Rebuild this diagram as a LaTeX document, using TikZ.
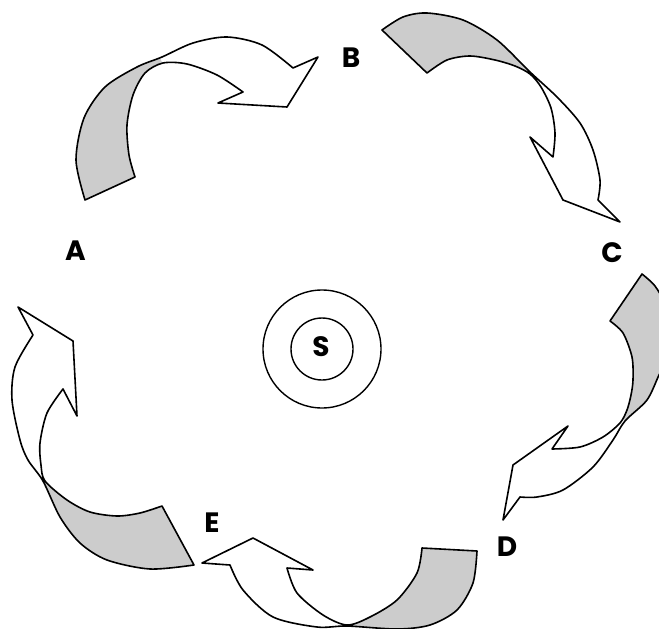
\documentclass[tikz,border=0pt]{standalone}
\usepackage{fontspec}
\setmainfont{Poppins}
\definecolor{backgray}{RGB}{204,204,204}
\begin{document}
\begin{tikzpicture}[x=1pt,y=-1pt, line join=round,
  ribbon/.style={draw=black, line width=1.6pt},
  lab/.style={font=\fontsize{28}{28}\selectfont\bfseries, inner sep=0pt},
  ring/.style={circle, draw=black, line width=1.4pt, inner sep=0pt}]
\useasboundingbox (0,0) rectangle (659,629);
\clip (0,0) rectangle (659,629);

\def\arrAB{(135,177) -- (85,200)
  -- plot[smooth] coordinates {(85,200) (76,160) (84,118) (105,87) (137,67) (162,57) (193,43) (227,37) (262,45) (293,68)}
  -- (318,57) -- (287,107) -- (218,103) -- (243,92)
  -- plot[smooth] coordinates {(243,92) (217,75) (187,64) (163,63) (145,73) (133,95) (127,125) (129,155) (135,177)} -- cycle}
\def\arrBC{(427,73) -- (382,30)
  -- plot[smooth] coordinates {(382,30) (403,17) (427,13) (463,20) (497,40) (530,72) (557,97) (580,123) (593,150) (600,180) (598,200)}
  -- (620,222) -- (563,200) -- (530,137) -- (553,157)
  -- plot[smooth] coordinates {(553,157) (555,133) (551,108) (541,87) (530,74) (515,66) (495,60) (470,56) (447,60) (427,73)} -- cycle}
\def\arrCD{(610,321) -- (642,274)
  -- plot[smooth] coordinates {(642,274) (655,286) (665,305) (670,335) (667,360) (659,375) (647,400) (625,421) (613,440) (593,467) (563,490) (537,497) (520,497)}
  -- (503,520) -- (513,465) -- (568,426) -- (552,449)
  -- plot[smooth] coordinates {(552,449) (580,447) (603,437) (620,423) (627,410) (631,395) (633,380) (632,357) (623,333) (610,321)} -- cycle}
\def\arrDE{(422,548) -- (477,551)
  -- plot[smooth] coordinates {(477,551) (473,583) (457,610) (430,625) (397,629) (347,626) (317,627) (273,617) (243,590) (230,565)}
  -- (202,563) -- (253,538) -- (313,570) -- (287,568)
  -- plot[smooth] coordinates {(287,568) (297,593) (323,615) (347,625) (370,617) (397,600) (417,573) (422,548)} -- cycle}
\def\arrEA{(162,506) -- (194,565)
  -- plot[smooth] coordinates {(194,565) (150,569) (107,560) (80,543) (60,517) (43,481) (28,460) (20,440) (12,400) (15,367) (33,335)}
  -- (18,307) -- (73,341) -- (77,416) -- (63,389)
  -- plot[smooth] coordinates {(63,389) (47,413) (40,443) (41,465) (45,481) (67,500) (90,512) (117,516) (140,513) (162,506)} -- cycle}

% white fronts
\fill[white] \arrAB; \fill[white] \arrBC; \fill[white] \arrCD; \fill[white] \arrDE; \fill[white] \arrEA;
% shaded backs
\begin{scope}
  \clip (121,-40) -- (241,260) -- (-10,260) -- (-10,-40) -- cycle;
  \fill[backgray] \arrAB;
\end{scope}
\begin{scope}
  \clip (630,-28) -- (430,172) -- (300,172) -- (300,-28) -- cycle;
  \fill[backgray] \arrBC;
\end{scope}
\begin{scope}
  \clip (425,320) -- (725,470) -- (725,200) -- (425,200) -- cycle;
  \fill[backgray] \arrCD;
\end{scope}
\begin{scope}
  \clip (347,400) -- (347,700) -- (700,700) -- (700,400) -- cycle;
  \fill[backgray] \arrDE;
\end{scope}
\begin{scope}
  \clip (-57,530) -- (243,380) -- (243,700) -- (-57,700) -- cycle;
  \fill[backgray] \arrEA;
\end{scope}
% outlines
\draw[ribbon] \arrAB; \draw[ribbon] \arrBC; \draw[ribbon] \arrCD; \draw[ribbon] \arrDE; \draw[ribbon] \arrEA;

% centre
\node[ring, minimum size=118pt] (orbit) at (322,349) {};
\node[ring, minimum size=62pt] (sun) at (322,349) {};
\node[lab] (S) at (321,347) {S};

% labels
\node[lab] (A) at (75.5,251) {A};
\node[lab] (B) at (351,58) {B};
\node[lab] (C) at (612,253) {C};
\node[lab] (D) at (507,547) {D};
\node[lab] (E) at (212,523) {E};
\end{tikzpicture}
\end{document}
